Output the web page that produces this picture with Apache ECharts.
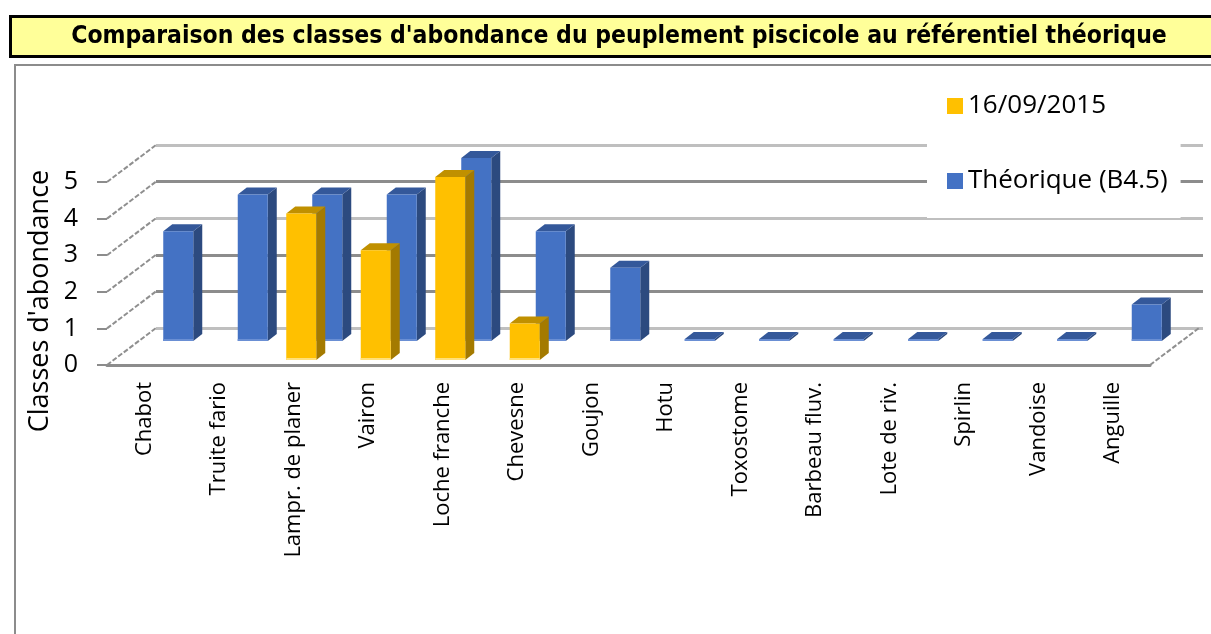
<!DOCTYPE html>
<html>
<head>
<meta charset="utf-8">
<script src="https://cdn.jsdelivr.net/npm/echarts@6/dist/echarts.min.js"></script>
<style>
    html, body { margin: 0; padding: 0; background: #fff; }
    #chart { width: 1211px; height: 634px; }
</style>
</head>
<body>
<div id="chart"></div>
<script>
const CATEGORIES = ['Chabot', 'Truite fario', 'Lampr. de planer', 'Vairon', 'Loche franche', 'Chevesne', 'Goujon', 'Hotu', 'Toxostome', 'Barbeau fluv.', 'Lote de riv.', 'Spirlin', 'Vandoise', 'Anguille'];
const SAMPLE_2015 = [null, null, 4, 3, 5, 1, null, null, null, null, null, null, null, null];
const THEORIQUE = [3, 4, 4, 4, 5, 3, 2, 0, 0, 0, 0, 0, 0, 1];
const Y_TICKS = [0, 1, 2, 3, 4, 5];
const SERIES_NAMES = ['16/09/2015', 'Théorique (B4.5)'];

// fake 3D: front plane grid + back wall grid shifted by the wall depth
const FRONT = { left: 107, top: 182, right: 61, height: 183 };
const WALL_DX = 49;
const WALL_DY = -37;
const BAR_W = 30;
const BAR_DEPTH = [9, -7];

const ROWS = {
    sample: { dx: 8, dy: -5, front: '#ffc000', side: '#a47a00', top: '#c09000', edge: '#ffe07a' },
    theo: { dx: 34, dy: -24, front: '#4472c4', side: '#2c4a7f', top: '#34589a', edge: '#6a8fd4' },
};

const FONT = '"Open Sans", "Noto Sans", sans-serif';

function barRenderer(row) {
    return (params, api) => {
        const value = api.value(1);

        if (value === null || isNaN(value)) {
            return null;
        }

        const base = api.coord([api.value(0), 0]);
        const top = api.coord([api.value(0), value]);
        const h = Math.max(base[1] - top[1], 2);
        const x = base[0] + row.dx - BAR_W / 2;
        const yb = base[1] + row.dy;
        const y = yb - h;
        const [ddx, ddy] = BAR_DEPTH;

        return {
            type: 'group',
            children: [
                {
                    type: 'polygon',
                    shape: { points: [[x + BAR_W, y], [x + BAR_W + ddx, y + ddy], [x + BAR_W + ddx, yb + ddy], [x + BAR_W, yb]] },
                    style: { fill: row.side },
                },
                {
                    type: 'polygon',
                    shape: { points: [[x, y], [x + ddx, y + ddy], [x + BAR_W + ddx, y + ddy], [x + BAR_W, y]] },
                    style: { fill: row.top },
                },
                {
                    type: 'rect',
                    shape: { x: x, y: y, width: BAR_W, height: h },
                    style: { fill: row.front },
                },
                {
                    type: 'rect',
                    shape: { x: x, y: yb - 2, width: BAR_W, height: 2 },
                    style: { fill: row.edge },
                },
            ],
        };
    };
}

function wallRenderer(params, api) {
    const p = api.coord([0, api.value(1)]);
    const band = api.size([1, 0])[0];
    const x0 = p[0] - band / 2;
    const dash = { stroke: '#8f8f8f', lineWidth: 2, lineDash: [5, 2] };
    const lines = [{
        type: 'line',
        shape: { x1: x0, y1: p[1], x2: x0 + WALL_DX, y2: p[1] + WALL_DY },
        style: dash,
    }];

    if (api.value(1) === 0) {
        const xr = p[0] + band * (CATEGORIES.length - 0.5);
        lines.push({
            type: 'line',
            shape: { x1: xr, y1: p[1], x2: xr + WALL_DX, y2: p[1] + WALL_DY },
            style: dash,
        });
    }

    return { type: 'group', children: lines };
}

const chart = echarts.init(document.getElementById('chart'), null, { renderer: 'canvas' });

chart.setOption({
    animation: false,
    backgroundColor: '#fff',
    graphic: [
        {
            type: 'rect',
            z: 0,
            shape: { x: 15, y: 65, width: 1300, height: 700 },
            style: { fill: 'none', stroke: '#8c8c8c', lineWidth: 2 },
        },
        {
            type: 'rect',
            z: 0,
            shape: { x: 10.5, y: 16.5, width: 1220, height: 40 },
            style: { fill: '#ffff99', stroke: '#000', lineWidth: 3 },
        },
        {
            type: 'text',
            z: 1,
            x: 619,
            y: 37,
            style: {
                text: "Comparaison des classes d'abondance du peuplement piscicole au référentiel théorique",
                font: 'bold 24.5px "DejaVu Sans Condensed", "Liberation Sans Narrow", sans-serif',
                fill: '#000',
                align: 'center',
                verticalAlign: 'middle',
            },
        },
        {
            type: 'text',
            z: 1,
            x: 40,
            y: 301,
            rotation: Math.PI / 2,
            style: {
                text: "Classes d'abondance",
                font: '27px ' + FONT,
                fill: '#000',
                align: 'center',
                verticalAlign: 'middle',
            },
        },
    ],
    legend: {
        data: SERIES_NAMES,
        orient: 'vertical',
        left: 927,
        top: 79,
        padding: [12, 13, 22, 20],
        itemGap: 45,
        itemWidth: 16,
        itemHeight: 16,
        icon: 'rect',
        backgroundColor: '#fff',
        selectedMode: false,
        z: 10,
        textStyle: { fontFamily: FONT, fontSize: 26, color: '#000', lineHeight: 30 },
    },
    grid: [
        { left: FRONT.left, top: FRONT.top, right: FRONT.right, height: FRONT.height },
        { left: FRONT.left + WALL_DX, top: FRONT.top + WALL_DY, right: 8, height: FRONT.height },
    ],
    xAxis: [
        {
            type: 'category',
            gridIndex: 0,
            data: CATEGORIES,
            boundaryGap: true,
            axisLine: { lineStyle: { color: '#8c8c8c', width: 3 } },
            axisTick: { length: 7, lineStyle: { color: '#8c8c8c', width: 2 } },
            axisLabel: { rotate: 90, margin: 17, interval: 0, fontFamily: FONT, fontSize: 22, color: '#000' },
            splitLine: { show: false },
        },
        {
            type: 'value',
            gridIndex: 1,
            min: 0,
            max: 1,
            show: false,
        },
    ],
    yAxis: [
        {
            type: 'value',
            gridIndex: 0,
            min: Y_TICKS[0],
            max: Y_TICKS[Y_TICKS.length - 1],
            interval: 1,
            axisLine: { show: false },
            axisTick: { show: true, length: 10, lineStyle: { color: '#8c8c8c', width: 2 } },
            axisLabel: { margin: 29, fontFamily: FONT, fontSize: 25, color: '#000' },
            splitLine: { show: false },
        },
        {
            type: 'value',
            gridIndex: 1,
            min: Y_TICKS[0],
            max: Y_TICKS[Y_TICKS.length - 1],
            interval: 1,
            axisLine: { show: false },
            axisTick: { show: false },
            axisLabel: { show: false },
            splitLine: {
                show: true,
                lineStyle: {
                    color: ['#bfbfbf', '#8c8c8c', '#8c8c8c', '#bfbfbf', '#8c8c8c', '#bfbfbf'],
                    width: 3,
                },
            },
        },
    ],
    series: [
        {
            name: 'wall',
            type: 'custom',
            xAxisIndex: 0,
            yAxisIndex: 0,
            silent: true,
            z: 1,
            renderItem: wallRenderer,
            data: Y_TICKS.map((v) => [0, v]),
        },
        {
            name: SERIES_NAMES[1],
            type: 'custom',
            xAxisIndex: 0,
            yAxisIndex: 0,
            z: 2,
            itemStyle: { color: ROWS.theo.front },
            renderItem: barRenderer(ROWS.theo),
            data: THEORIQUE.map((v, i) => [i, v]),
        },
        {
            name: SERIES_NAMES[0],
            type: 'custom',
            xAxisIndex: 0,
            yAxisIndex: 0,
            z: 3,
            itemStyle: { color: ROWS.sample.front },
            renderItem: barRenderer(ROWS.sample),
            data: SAMPLE_2015.map((v, i) => [i, v]).filter((d) => d[1] !== null),
        },
    ],
});
</script>
</body>
</html>
